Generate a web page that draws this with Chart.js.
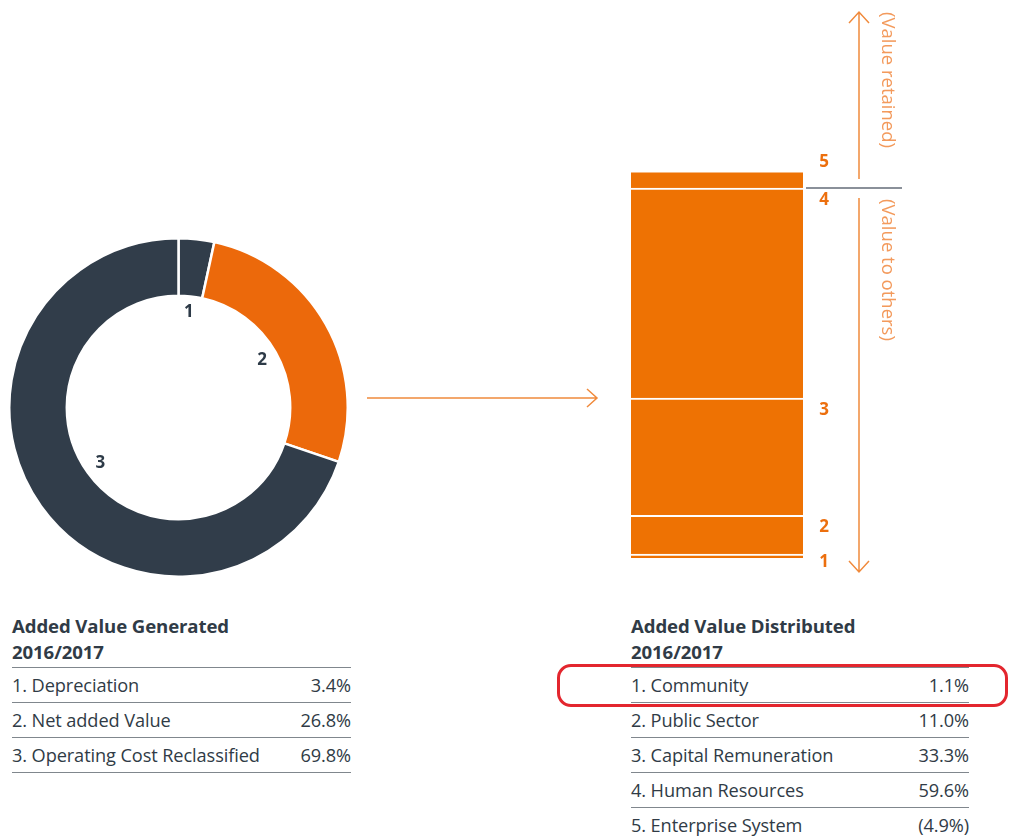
<!DOCTYPE html>
<html>
<head>
<meta charset="utf-8">
<script src="https://cdn.jsdelivr.net/npm/chart.js@4"></script>
<style>
  body { margin: 0; width: 1010px; height: 838px; overflow: hidden; background: #fff; position: relative; font-family: "Open Sans", Lato, sans-serif; color: #303b46; }
  #donutWrap { position: absolute; left: 8px; top: 237px; width: 341px; height: 341px; }
  #barWrap { position: absolute; left: 360px; top: 0; width: 650px; height: 600px; }
  .tbl { position: absolute; top: 613px; }
  .tbl .title { font-weight: bold; font-size: 18.6px; line-height: 26px; padding-bottom: 2px; border-bottom: 1.5px solid #80878d; letter-spacing: -0.1px; }
  .tbl .row { height: 34px; line-height: 34px; font-size: 18.2px; border-bottom: 1.5px solid #80878d; display: flex; justify-content: space-between; letter-spacing: -0.1px; }
  #redBox { position: absolute; left: 557px; top: 664px; width: 445px; height: 37px; border: 3px solid #e3262e; border-radius: 14px; }
</style>
</head>
<body>
<div id="donutWrap"><canvas id="donutChart"></canvas></div>
<div id="barWrap"><canvas id="barChart"></canvas></div>
<div class="tbl" id="genTable" style="left:12px; width:339px;"></div>
<div class="tbl" id="distTable" style="left:631px; width:338px;"></div>
<div id="redBox"></div>
<script>
var generatedTitle = ["Added Value Generated", "2016/2017"];
var generatedLabels = ["Depreciation", "Net added Value", "Operating Cost Reclassified"];
var generatedValues = [3.4, 26.8, 69.8];
var generatedColors = ["#313d4a", "#ec690b", "#313d4a"];

var distributedTitle = ["Added Value Distributed", "2016/2017"];
var distributedLabels = ["Community", "Public Sector", "Capital Remuneration", "Human Resources", "Enterprise System"];
var distributedValues = [1.1, 11.0, 33.3, 59.6, -4.9];

var retainedText = "(Value retained)";
var othersText = "(Value to others)";

function fmt(v) {
    return v < 0 ? "(" + Math.abs(v).toFixed(1) + "%)" : v.toFixed(1) + "%";
}

function buildTable(id, title, labels, values) {
    var el = document.getElementById(id);
    var html = '<div class="title">' + title.join("<br>") + '</div>';
    labels.forEach(function (l, i) {
        html += '<div class="row"><span>' + (i + 1) + '. ' + l + '</span><span>' + fmt(values[i]) + '</span></div>';
    });
    el.innerHTML = html;
}
buildTable("genTable", generatedTitle, generatedLabels, generatedValues);
buildTable("distTable", distributedTitle, distributedLabels, distributedValues);

// numbers inside the donut hole
const donutLabels = {
    id: 'donutLabels',
    afterDraw(chart) {
        const ctx = chart.ctx;
        ctx.save();
        ctx.font = "bold 17px 'Open Sans', sans-serif";
        ctx.fillStyle = "#2d3a47";
        ctx.textAlign = "center";
        ctx.textBaseline = "middle";
        chart.getDatasetMeta(0).data.forEach(function (arc, i) {
            const mid = (arc.startAngle + arc.endAngle) / 2;
            const r = arc.innerRadius * 0.86;
            ctx.fillText(String(i + 1), arc.x + Math.cos(mid) * r, arc.y + Math.sin(mid) * r);
        });
        ctx.restore();
    }
};

new Chart(document.getElementById('donutChart').getContext('2d'), {
    type: 'doughnut',
    data: {
        labels: generatedLabels,
        datasets: [{
            data: generatedValues,
            backgroundColor: generatedColors,
            borderColor: "#ffffff",
            borderWidth: 2.5
        }]
    },
    options: {
        responsive: true,
        maintainAspectRatio: false,
        animation: false,
        cutout: '66%',
        plugins: { legend: { display: false }, tooltip: { enabled: false } }
    },
    plugins: [donutLabels]
});

// arrows, divider, numbers and rotated captions around the bar
const barDecor = {
    id: 'barDecor',
    afterDraw(chart) {
        const ctx = chart.ctx;
        const area = chart.chartArea;
        const orange = "#f08a3c";
        ctx.save();
        ctx.strokeStyle = orange;
        ctx.lineWidth = 1.5;

        // arrow from donut to bar
        const ay = 398;
        const ax0 = area.left - 264, ax1 = area.left - 34;
        ctx.beginPath();
        ctx.moveTo(ax0, ay); ctx.lineTo(ax1, ay);
        ctx.moveTo(ax1 - 10, ay - 9); ctx.lineTo(ax1, ay); ctx.lineTo(ax1 - 10, ay + 9);
        ctx.stroke();

        // divider at top of segment 4
        const seg4 = chart.getDatasetMeta(3).data[0];
        const gy = seg4.y;
        ctx.strokeStyle = "#8a9099";
        ctx.lineWidth = 2;
        ctx.beginPath();
        ctx.moveTo(area.right + 3, gy); ctx.lineTo(area.right + 99, gy);
        ctx.stroke();

        // vertical arrows
        const vx = area.right + 56;
        ctx.strokeStyle = orange;
        ctx.lineWidth = 1.5;
        ctx.beginPath();
        ctx.moveTo(vx, gy - 9); ctx.lineTo(vx, area.top);
        ctx.moveTo(vx - 10, area.top + 11); ctx.lineTo(vx, area.top); ctx.lineTo(vx + 10, area.top + 11);
        ctx.moveTo(vx, gy + 10); ctx.lineTo(vx, area.bottom);
        ctx.moveTo(vx - 10, area.bottom - 11); ctx.lineTo(vx, area.bottom); ctx.lineTo(vx + 10, area.bottom - 11);
        ctx.stroke();

        // rotated captions
        ctx.fillStyle = "#f39a5c";
        ctx.font = "18.5px 'Open Sans', sans-serif";
        ctx.textBaseline = "middle";
        ctx.textAlign = "left";
        const tx = area.right + 84;
        [[retainedText, area.top], [othersText, gy + 11]].forEach(function (t) {
            ctx.save();
            ctx.translate(tx, t[1]);
            ctx.rotate(Math.PI / 2);
            ctx.fillText(t[0], 0, 0);
            ctx.restore();
        });

        // segment numbers
        ctx.fillStyle = "#ec6f0e";
        ctx.font = "bold 17px 'Open Sans', sans-serif";
        ctx.textAlign = "center";
        distributedValues.forEach(function (v, i) {
            const el = chart.getDatasetMeta(i).data[0];
            const y = v < 0 ? el.y - 9 : Math.min(el.y + 12, el.base + 4);
            ctx.fillText(String(i + 1), area.right + 21, y);
        });
        ctx.restore();
    }
};

new Chart(document.getElementById('barChart').getContext('2d'), {
    type: 'bar',
    data: {
        labels: ["2016/2017"],
        datasets: distributedLabels.map(function (l, i) {
            return {
                label: l,
                data: [Math.abs(distributedValues[i])],
                backgroundColor: "#ee7203",
                borderColor: "#ffffff",
                borderWidth: { top: 2, bottom: 0, left: 0, right: 0 },
                borderSkipped: false,
                barPercentage: 1,
                categoryPercentage: 1
            };
        })
    },
    options: {
        responsive: true,
        maintainAspectRatio: false,
        animation: false,
        layout: { padding: { left: 271, right: 207, top: 12, bottom: 28 } },
        scales: {
            x: { stacked: true, display: false },
            y: { stacked: true, display: false, min: -4, max: 155 }
        },
        plugins: { legend: { display: false }, tooltip: { enabled: false } }
    },
    plugins: [barDecor]
});
</script>
</body>
</html>
